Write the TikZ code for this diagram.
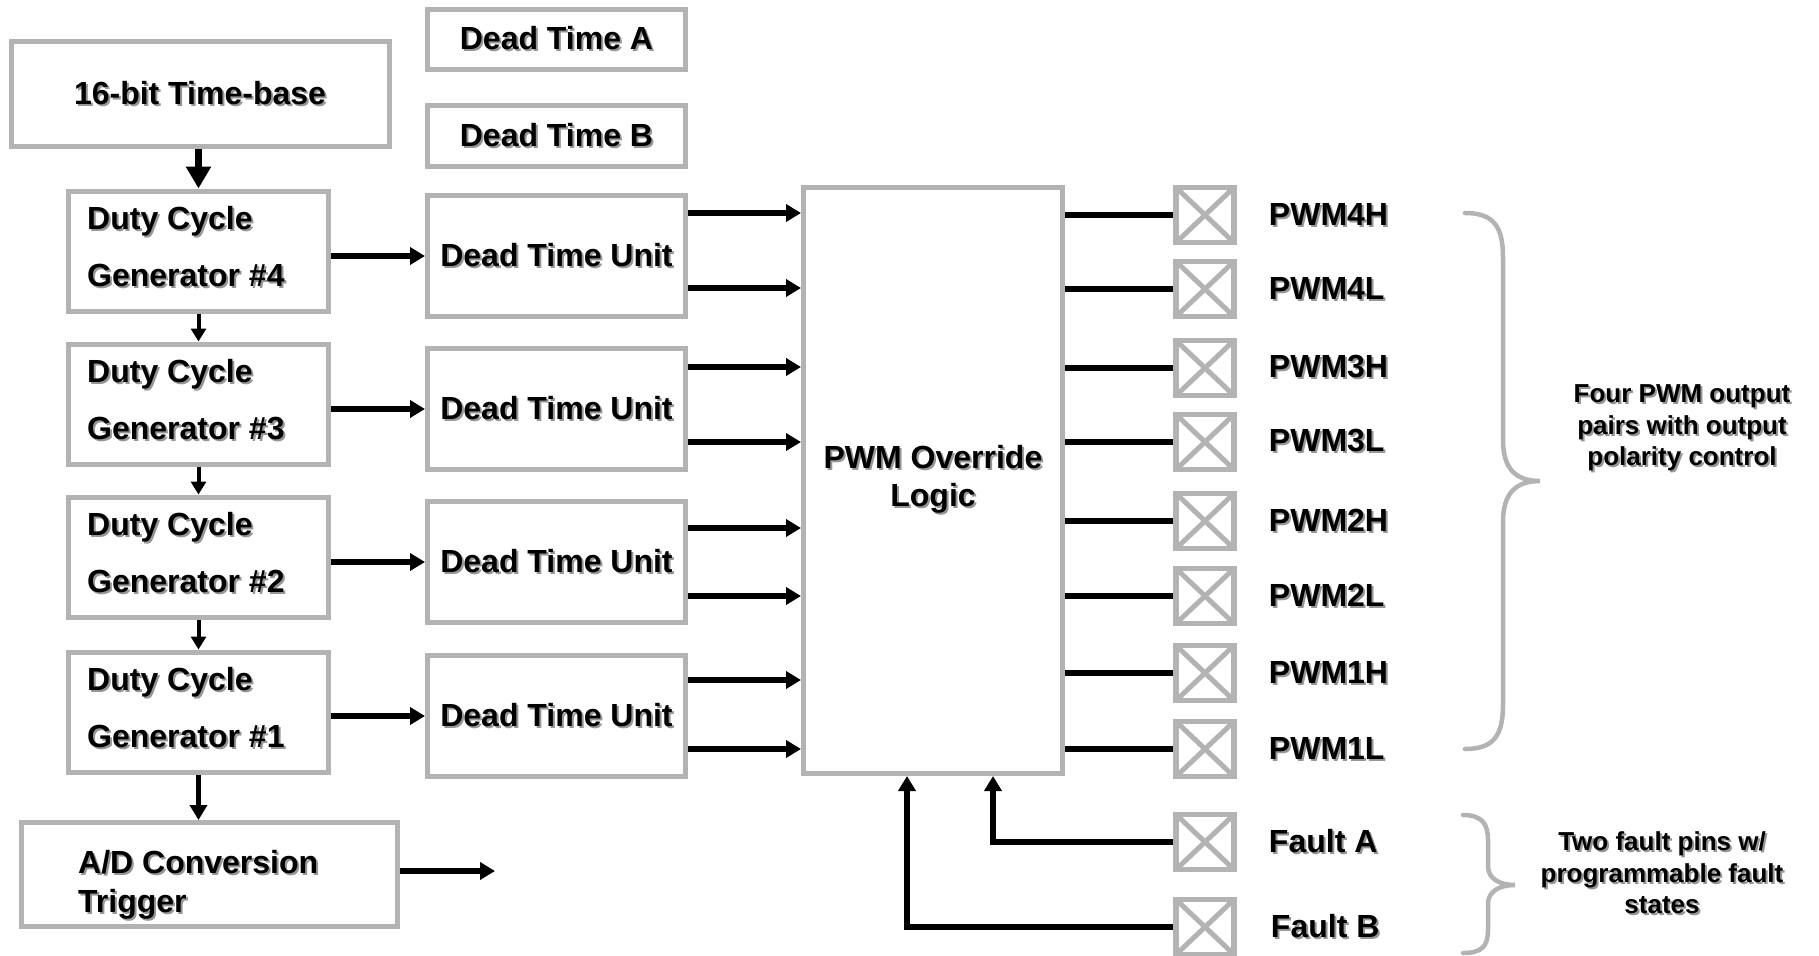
\documentclass[tikz,border=0pt]{standalone}
\usepackage{fontspec}
\setmainfont{Liberation Sans}
\usepackage{xcolor}
\usetikzlibrary{arrows.meta,positioning,calc}

\definecolor{boxgray}{RGB}{179,179,179}
\definecolor{shadegray}{RGB}{150,150,150}
\newcommand{\shd}[1]{\leavevmode\rlap{\hspace*{2pt}\raisebox{-2pt}{\textcolor{shadegray}{#1}}}#1}

\begin{document}
\begin{tikzpicture}[x=1pt, y=-1pt,
  font=\bfseries\fontsize{32}{38}\selectfont,
  blk/.style={draw=boxgray, line width=5pt, fill=white, inner sep=0pt},
  gen/.style={blk, minimum width=260pt, minimum height=120pt, text width=227pt,
    align=left, font=\bfseries\fontsize{32}{57}\selectfont},
  dtu/.style={blk, minimum width=258pt, minimum height=121pt},
  pin/.style={blk, line width=5.5pt, minimum width=58pt, minimum height=55pt,
    path picture={\draw[boxgray, line width=5pt]
      (path picture bounding box.north west) -- (path picture bounding box.south east)
      (path picture bounding box.south west) -- (path picture bounding box.north east);}},
  pinlbl/.style={inner sep=0pt, anchor=west},
  note/.style={inner sep=0pt, align=center, font=\bfseries\fontsize{26}{31.5}\selectfont},
  wire/.style={line width=5.5pt},
  arr/.style={line width=5.5pt, -{Triangle[length=15pt, width=17pt]}},
  sarr/.style={line width=4pt, -{Triangle[length=13pt, width=15pt]}},
  brc/.style={draw=boxgray, line width=4.5pt, line cap=round},
]
\clip (0,0) rectangle (1819,955);
\fill[white] (0,0) rectangle (1819,955);

% Time base and dead time registers
\node[blk, minimum width=378pt, minimum height=105pt] (tb) at (200,94) {\shd{16-bit Time-base}};
\node[blk, minimum width=258pt, minimum height=60pt] (dta) at (556.5,39.5) {\shd{Dead Time A}};
\node[blk, minimum width=258pt, minimum height=61pt] (dtb) at (556.5,136) {\shd{Dead Time B}};

% Duty cycle generators and dead time units
\foreach \n/\yg/\yd in {4/251/256, 3/404/409, 2/557/562, 1/712/716} {
  \node[gen] (dcg\n) at (198.5,\yg) {};
  \node[inner sep=0pt, align=left, anchor=west, font=\bfseries\fontsize{32}{57}\selectfont]
    (dcg\n-t) at ([xshift=21pt, yshift=3pt]dcg\n.west) {\shd{Duty Cycle}\\\shd{Generator \#\n}};
  \node[dtu] (dtu\n) at (556.5,\yd) {\shd{Dead Time Unit}};
  \draw[arr] (dtu\n.west -| dcg\n.east) -- (dtu\n.west);
}

% A/D trigger
\node[blk, minimum width=376pt, minimum height=104pt] (ad) at (209.5,874.5) {};
\node[inner sep=0pt, align=left, anchor=west, font=\bfseries\fontsize{32}{39}\selectfont]
  (ad-t) at ([xshift=59pt, yshift=-11pt]ad.west) {\shd{A/D Conversion}\\\shd{Trigger}};
\coordinate (adout) at (495,871);

% Override logic
\node[blk, minimum width=259pt, minimum height=586pt, align=center] (ovr) at (933,480.5)
  {\shd{PWM Override}\\\shd{Logic}};

% Vertical chain
\draw[line width=7pt, -{Triangle[length=22pt, width=24pt]}] (tb.south -| dcg4.north) -- (dcg4.north);
\draw[sarr] (dcg4.south) -- (dcg3.north);
\draw[sarr] (dcg3.south) -- (dcg2.north);
\draw[sarr] (dcg2.south) -- (dcg1.north);
\draw[arr] (dcg1.south) -- (dcg1.south |- ad.north);
\draw[arr] (ad.east |- adout) -- (adout);

% Dead time outputs into override logic
\foreach \n/\ya/\yb in {4/213/288, 3/367/442, 2/528/596, 1/680/749} {
  \draw[arr] (dtu\n.east |- 0,\ya) -- (ovr.west |- 0,\ya);
  \draw[arr] (dtu\n.east |- 0,\yb) -- (ovr.west |- 0,\yb);
}

% Output pins
\foreach \nm/\yy/\txt in {p4h/215/PWM4H, p4l/289/PWM4L, p3h/368/PWM3H, p3l/442/PWM3L,
    p2h/521/PWM2H, p2l/596/PWM2L, p1h/673/PWM1H, p1l/749/PWM1L} {
  \node[pin] (\nm) at (1205,\yy) {};
  \node[pinlbl, right=32pt of \nm] (\nm-l) {\shd{\txt}};
  \draw[wire] (ovr.east |- \nm.west) -- (\nm.west);
}

% Fault pins
\node[pin] (fa) at (1205,842) {};
\node[pinlbl, right=32pt of fa] (fa-l) {\shd{Fault A}};
\node[pin] (fb) at (1205,927) {};
\node[pinlbl, right=34pt of fb] (fb-l) {\shd{Fault B}};
\draw[arr] (fa.west) -| ([xshift=60pt]ovr.south);
\draw[arr] (fb.west) -| ([xshift=-26pt]ovr.south);

% Braces and notes
\draw[brc] (1465,213) .. controls (1495,213) and (1503,228) .. (1503,258) -- (1503,440)
  .. controls (1503,468) and (1515,481) .. (1540,481)
  .. controls (1515,481) and (1503,494) .. (1503,522) -- (1503,704)
  .. controls (1503,734) and (1495,749) .. (1465,749);
\node[note] (pwmnote) at (1682,429)
  {\shd{Four PWM output}\\\shd{pairs with output}\\\shd{polarity control}};
\draw[brc] (1463,815) .. controls (1482,815) and (1488,824) .. (1488,840) -- (1488,866)
  .. controls (1488,879) and (1500,885) .. (1515,885)
  .. controls (1500,885) and (1488,891) .. (1488,904) -- (1488,930)
  .. controls (1488,946) and (1482,953) .. (1463,953);
\node[note] (faultnote) at (1662,874)
  {\shd{Two fault pins w/}\\\shd{programmable fault}\\\shd{states}};
\end{tikzpicture}
\end{document}
